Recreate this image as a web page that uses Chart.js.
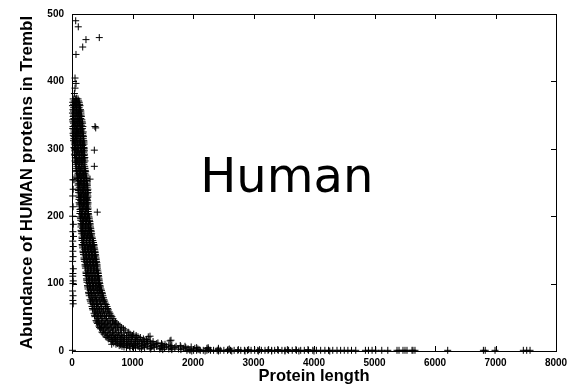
<!DOCTYPE html>
<html><head><meta charset="utf-8">
<script src="https://cdn.jsdelivr.net/npm/chart.js@4.4.1/dist/chart.umd.min.js"></script>
<style>html,body{margin:0;padding:0;background:#fff;}canvas{display:block;}</style>
</head><body>
<canvas id="c" width="574" height="390"></canvas>
<script>
// ---- tick labels / texts ----
const xTicks = [0, 1000, 2000, 3000, 4000, 5000, 6000, 7000, 8000];
const yTicks = [0, 100, 200, 300, 400, 500];
const xTitle = 'Protein length';
const yTitle = 'Abundance of HUMAN proteins in Trembl';
const annotationText = 'Human';
const annotationAt = [3550, 236]; // [length, abundance]

// ---- data: [protein length, abundance] ----
const axisColumn = [[15,254],[20,240],[12,230],[18,214],[10,200],[22,188],[15,177],[25,170],[12,163],[20,155],[14,148],[18,140],[10,133],[22,122],[15,115],[12,111],[20,104],[16,100],[10,89],[18,82],[14,75],[20,70],[8,1]];
const topOutliers = [[61,490],[104,481],[231,462],[451,465],[177,451],[66,440],[50,405],[66,397],[50,390],[77,375],[40,382]];
const scatteredOutliers = [[380,333],[392,331],[369,298],[369,274],[298,255],[33,254],[243,226],[418,206],[336,158],[325,148],[353,131],[300,155],[435,98],[1261,21],[1289,22],[1620,15],[1636,16],[656,10]];
const mainBand = [
[20,374],[60,374],[100,374],
[12,369],[45,369],[85,369],[120,369],
[8,364],[40,364],[75,364],[110,364],[132,364],
[15,358],[55,358],[95,358],[140,358],
[8,353],[38,353],[72,353],[108,353],[148,353],
[20,348],[60,348],[100,348],[135,348],[155,348],
[10,343],[45,343],[85,343],[125,343],[163,343],
[25,338],[65,338],[105,338],[145,338],[175,338],
[18,333],[55,333],[95,333],[135,333],[180,333],
[30,328],[75,328],[115,328],[160,328],
[18,323],[50,323],[90,323],[130,323],[178,323],
[35,318],[75,318],[120,318],[165,318],[190,318],
[25,312],[60,312],[100,312],[145,312],[195,312],
[40,307],[85,307],[130,307],[175,307],[200,307],
[33,302],[70,302],[110,302],[155,302],[198,302],
[45,297],[90,297],[135,297],[180,297],[205,297],
[41,292],[80,292],[125,292],[170,292],[207,292],
[55,287],[100,287],[145,287],[190,287],[212,287],
[50,282],[90,282],[135,282],[175,282],[215,282],
[62,277],[105,277],[150,277],[195,277],
[66,271],[110,271],[155,271],[200,271],[215,271],
[75,266],[120,266],[165,266],[210,266],[225,266],
[83,261],[125,261],[170,261],[230,261],
[90,256],[135,256],[180,256],[220,256],[240,256],
[99,251],[140,251],[190,251],[245,251],
[100,246],[150,246],[200,246],[235,246],[255,246],
[99,240],[145,240],[190,240],[230,240],[262,240],
[110,235],[155,235],[200,235],[245,235],[265,235],
[116,230],[160,230],[210,230],[262,230],
[115,225],[165,225],[215,225],[250,225],
[118,220],[160,220],[205,220],[240,220],[264,220],
[125,215],[170,215],[215,215],[260,215],
[132,210],[175,210],[220,210],[262,210],
[130,204],[180,204],[225,204],[270,204],
[135,199],[178,199],[225,199],[280,199],
[145,194],[190,194],[240,194],[290,194],
[150,189],[195,189],[245,189],[298,189],
[148,184],[200,184],[250,184],[305,184],
[150,179],[195,179],[245,179],[290,179],[314,179],
[160,174],[205,174],[255,174],[300,174],[325,174],
[165,169],[210,169],[260,169],[305,169],[331,169],
[165,164],[215,164],[265,164],[310,164],[345,164],
[168,158],[215,158],[265,158],[315,158],[362,158],
[175,153],[225,153],[275,153],[325,153],[370,153],
[182,148],[230,148],[280,148],[330,148],[380,148],
[190,143],[240,143],[290,143],[340,143],[388,143],
[198,138],[245,138],[295,138],[345,138],[397,138],
[205,133],[255,133],[305,133],[355,133],[405,133],
[215,128],[262,128],[310,128],[360,128],[413,128],
[222,123],[270,123],[320,123],[370,123],[420,123],
[231,117],[280,117],[330,117],[380,117],[430,117],
[235,112],[285,112],[335,112],[385,112],[438,112],
[240,107],[290,107],[340,107],[395,107],[446,107],
[248,102],[298,102],[350,102],[400,102],[455,102],
[256,97],[305,97],[355,97],[410,97],[463,97],
[265,92],[315,92],[365,92],[420,92],[478,92],
[273,87],[325,87],[380,87],[435,87],[496,87],
[285,82],[335,82],[390,82],[450,82],[510,82],
[298,76],[350,76],[405,76],[465,76],[529,76],
[315,71],[365,71],[420,71],[480,71],[550,71],
[331,66],[380,66],[435,66],[495,66],[579,66],
[345,61],[400,61],[455,61],[520,61],[600,61],
[364,56],[420,56],[480,56],[545,56],[628,56],
[380,51],[440,51],[500,51],[570,51],[660,51],
[397,45],[460,45],[530,45],[610,45],[694,45],
[420,41],[490,41],[560,41],[640,41],[740,41],
[446,37],[515,37],[590,37],[680,37],[793,37],
[470,33],[545,33],[625,33],[720,33],[850,33],
[496,28],[580,28],[670,28],[770,28],[926,28],
[530,25],[615,25],[710,25],[820,25],[960,25],[1020,25],
[562,21],[650,21],[750,21],[860,21],[980,21],[1091,21],
[600,18],[700,18],[800,18],[910,18],[1040,18],[1180,18],
[645,15],[740,15],[850,15],[960,15],[1080,15],[1200,15],[1289,15],
[690,12],[790,12],[900,12],[1020,12],[1150,12],[1300,12],[1420,12],
[727,10],[840,10],[960,10],[1080,10],[1220,10],[1370,10],[1537,10],
[780,8],[900,8],[1030,8],[1170,8],[1320,8],[1480,8],[1650,8],[1790,8],
[826,7],[950,7],[1090,7],[1240,7],[1400,7],[1560,7],[1720,7],[1868,7],
[900,5],[1050,5],[1200,5],[1360,5],[1530,5],[1700,5],[1880,5],[2060,5],[2250,5],
[959,4],[1120,4],[1290,4],[1470,4],[1650,4],[1840,4],[2030,4],[2230,4],[2420,4],
[1150,3],[1300,3],[1450,3],[1600,3],[1760,3],[1920,3],[2080,3],[2250,3],[2600,3],
[1500,2],[1650,2],[1800,2],[1950,2],[2100,2],[2260,2],[2420,2],[2580,2],[2750,2],[2920,2],[3100,2]
];
const mainBandFill = [
[35,371],[78,371],[110,371],
[25,366],[58,366],[95,366],[125,366],
[28,361],[68,361],[118,361],
[25,356],[80,356],[125,356],[146,356],
[28,350],[88,350],[120,350],[150,350],
[30,345],[70,345],[110,345],[145,345],
[15,340],[50,340],[88,340],[128,340],[168,340],
[40,335],[80,335],[120,335],[160,335],
[12,330],[52,330],[95,330],[140,330],[172,330],
[35,325],[70,325],[110,325],[150,325],[185,325],
[22,320],[58,320],[100,320],[145,320],[182,320],
[30,315],[50,315],[95,315],[140,315],[185,315],
[45,310],[80,310],[120,310],[165,310],[198,310],
[55,305],[95,305],[140,305],[180,305],
[40,300],[60,300],[100,300],[145,300],[185,300],[203,300],
[65,295],[110,295],[155,295],[195,295],
[50,290],[75,290],[120,290],[165,290],[200,290],
[70,285],[115,285],[160,285],[205,285],
[58,280],[75,280],[120,280],[160,280],[200,280],
[80,274],[125,274],[170,274],[210,274],
[70,268],[95,268],[140,268],[185,268],[220,268],
[100,263],[145,263],[190,263],[215,263],
[88,258],[110,258],[155,258],[200,258],[235,258],
[115,253],[160,253],[205,253],[242,253],
[105,248],[125,248],[170,248],[215,248],[250,248],
[120,243],[165,243],[210,243],[250,243],
[105,238],[130,238],[175,238],[215,238],[258,238],
[135,233],[180,233],[225,233],[255,233],
[120,228],[140,228],[190,228],[235,228],[260,228],
[140,223],[185,223],[230,223],[258,223],
[122,218],[145,218],[190,218],[235,218],[262,218],
[150,212],[195,212],[240,212],[266,212],
[135,207],[155,207],[200,207],[245,207],[268,207],
[158,202],[205,202],[250,202],[275,202],
[140,197],[165,197],[210,197],[255,197],[285,197],
[170,192],[218,192],[265,192],[295,192],
[152,187],[175,187],[225,187],[272,187],[300,187],
[175,182],[225,182],[275,182],[310,182],
[155,177],[175,177],[220,177],[270,177],[318,177],
[185,172],[230,172],[280,172],[320,172],
[168,167],[190,167],[238,167],[285,167],[335,167],
[190,161],[240,161],[290,161],[340,161],[355,161],
[172,156],[200,156],[250,156],[300,156],[345,156],[365,156],
[205,151],[255,151],[305,151],[350,151],[375,151],
[185,146],[215,146],[265,146],[315,146],[362,146],[384,146],
[218,141],[270,141],[320,141],[370,141],[392,141],
[200,136],[230,136],[280,136],[330,136],[375,136],[400,136],
[235,131],[285,131],[335,131],[385,131],[410,131],
[218,126],[245,126],[295,126],[345,126],[395,126],[416,126],
[255,120],[305,120],[355,120],[405,120],[425,120],
[233,115],[260,115],[310,115],[360,115],[410,115],[434,115],
[265,110],[315,110],[365,110],[420,110],[442,110],
[244,105],[275,105],[325,105],[375,105],[428,105],[450,105],
[280,100],[330,100],[380,100],[435,100],[459,100],
[260,95],[290,95],[340,95],[390,95],[445,95],[470,95],
[300,90],[350,90],[400,90],[455,90],[487,90],
[278,85],[310,85],[360,85],[415,85],[475,85],[503,85],
[320,79],[375,79],[430,79],[490,79],[520,79],
[305,74],[340,74],[395,74],[450,74],[510,74],[540,74],
[350,69],[405,69],[465,69],[530,69],[565,69],
[338,63],[370,63],[425,63],[485,63],[555,63],[590,63],
[390,58],[445,58],[510,58],[580,58],[614,58],
[372,53],[410,53],[470,53],[535,53],[610,53],[645,53],
[420,48],[485,48],[550,48],[630,48],[678,48],
[408,43],[440,43],[510,43],[585,43],[670,43],[718,43],
[460,39],[535,39],[610,39],[700,39],[765,39],
[455,35],[490,35],[565,35],[650,35],[750,35],[820,35],
[520,31],[600,31],[690,31],[800,31],[880,31],
[510,27],[550,27],[640,27],[740,27],[860,27],[940,27],
[590,23],[690,23],[790,23],[900,23],[1000,23],[1060,23],
[580,20],[625,20],[720,20],[830,20],[940,20],[1060,20],[1130,20],
[660,17],[760,17],[870,17],[990,17],[1110,17],[1230,17],
[670,14],[720,14],[820,14],[930,14],[1050,14],[1170,14],[1250,14],[1340,14],
[750,11],[860,11],[980,11],[1110,11],[1250,11],[1400,11],[1480,11],
[800,9],[920,9],[1050,9],[1190,9],[1340,9],[1500,9],[1600,9],
[860,6],[1000,6],[1150,6],[1310,6],[1470,6],[1630,6],[1800,6],[1970,6]
];
const tailPoints = [
[1900,1],[1950,1],[2010,1],[2060,1],[2120,1],[2170,1],[2230,1],[2290,1],[2340,1],[2400,1],
[2450,1],[2510,1],[2570,1],[2620,1],[2680,1],[2740,1],[2790,1],[2850,1],[2900,1],[2960,1],
[3020,1],[3070,1],[3130,1],[3190,1],[3240,1],[3300,1],[3350,1],[3410,1],[3470,1],[3520,1],
[3580,1],[3640,1],[3710,1],[3780,1],[3840,1],[3910,1],[3980,1],[4040,1],[4110,1],[4180,1],
[4240,1],[4310,1],[4380,1],[4440,1],[4500,1],[4560,1],[4620,1],[4690,1],[4850,1],[4900,1],
[4960,1],[5020,1],[5120,1],[5220,1],[5372,1],[5405,1],[5471,1],[5504,1],[5537,1],[5620,1],
[5636,1],[5669,1],[6210,1],[6800,1],[6830,1],[6992,1],[7460,1],[7516,1],[7571,1],
[1980,0],[2200,0],[2420,0],[2640,0],[2860,0],[3080,0],[3300,0],[3520,0],[3750,0],[4000,0],[4260,0],
[3250,2],[3400,2],[3560,2],[3700,2],[3900,2]
];

const points = [].concat(axisColumn, topOutliers, scatteredOutliers, mainBand, mainBandFill, tailPoints).map(([x, y]) => ({x, y}));

const framePlugin = {
  id: 'frame',
  afterDraw(chart) {
    const {ctx, chartArea: a, scales: {x, y}} = chart;
    ctx.save();
    ctx.strokeStyle = '#000';
    ctx.lineWidth = 1;
    ctx.strokeRect(Math.round(a.left) + 0.5, Math.round(a.top) + 0.5, Math.round(a.right - a.left), Math.round(a.bottom - a.top));
    const tl = 5;
    ctx.beginPath();
    xTicks.forEach(v => {
      const px = Math.round(x.getPixelForValue(v)) + 0.5;
      ctx.moveTo(px, a.bottom); ctx.lineTo(px, a.bottom - tl);
      ctx.moveTo(px, a.top); ctx.lineTo(px, a.top + tl);
    });
    yTicks.forEach(v => {
      const py = Math.round(y.getPixelForValue(v)) + 0.5;
      ctx.moveTo(a.left, py); ctx.lineTo(a.left + tl, py);
      ctx.moveTo(a.right, py); ctx.lineTo(a.right - tl, py);
    });
    ctx.stroke();
    ctx.fillStyle = '#000';
    ctx.font = '48px "DejaVu Sans"';
    ctx.textAlign = 'center';
    ctx.textBaseline = 'alphabetic';
    ctx.fillText(annotationText, x.getPixelForValue(annotationAt[0]), y.getPixelForValue(annotationAt[1]));
    ctx.restore();
  }
};

const tickFont = {family: '"Liberation Sans", Arial, sans-serif', weight: 'bold', size: 10};

new Chart(document.getElementById('c'), {
  type: 'scatter',
  data: {datasets: [{
    data: points,
    pointStyle: 'cross',
    pointRadius: 3.5,
    pointHoverRadius: 3.5,
    pointBorderWidth: 1,
    borderColor: '#000',
    backgroundColor: '#000',
    clip: false
  }]},
  options: {
    responsive: false,
    animation: false,
    devicePixelRatio: 1,
    events: [],
    layout: {padding: {top: 10, right: 18, left: 0, bottom: 0}},
    plugins: {legend: {display: false}, tooltip: {enabled: false}},
    scales: {
      x: {
        type: 'linear', min: 0, max: 8000,
        afterBuildTicks: s => { s.ticks = xTicks.map(v => ({value: v})); },
        ticks: {font: tickFont, color: '#000', padding: 6, maxRotation: 0, autoSkip: false, callback: v => String(v)},
        grid: {display: false, drawTicks: false},
        border: {display: false},
        title: {display: true, text: xTitle, color: '#000',
          font: {family: '"Liberation Sans", Arial, sans-serif', weight: 'bold', size: 16.5},
          padding: {top: 0, bottom: 4}},
        afterFit: s => { s.height = 39; }
      },
      y: {
        type: 'linear', min: 0, max: 500,
        afterBuildTicks: s => { s.ticks = yTicks.map(v => ({value: v})); },
        ticks: {font: tickFont, color: '#000', padding: 8, autoSkip: false, callback: v => String(v)},
        grid: {display: false, drawTicks: false},
        border: {display: false},
        title: {display: true, text: yTitle, color: '#000',
          font: {family: '"Liberation Sans", Arial, sans-serif', weight: 'bold', size: 17},
          padding: {top: 17, bottom: 0}},
        afterFit: s => { s.width = 72; }
      }
    }
  },
  plugins: [framePlugin]
});
</script>
</body></html>
